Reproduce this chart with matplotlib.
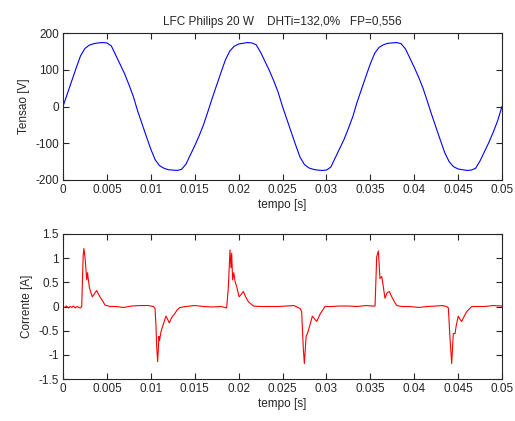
import matplotlib
matplotlib.use("Agg")
import matplotlib.pyplot as plt

plt.rcParams['font.family'] = ['Liberation Sans', 'DejaVu Sans']
plt.rcParams['axes.unicode_minus'] = False

title = "LFC Philips 20 W    DHTi=132,0%   FP=0,556"
xlabel = "tempo [s]"
ylabel_v = "Tensao [V]"
ylabel_i = "Corrente [A]"

# Voltage samples (time in ms)
t_v_ms = [0, 0.5, 1, 1.5, 2, 2.5, 3, 3.5, 4, 4.5, 5, 5.5, 6, 6.5, 7, 7.5, 8, 8.5, 9, 9.5,
          10, 10.5, 11, 11.5, 12, 12.5, 13, 13.5, 14, 14.5, 15, 15.5, 16, 16.5, 17, 17.5, 18, 18.5, 19, 19.5,
          20, 20.5, 21, 21.5, 22, 22.5, 23, 23.5, 24, 24.5, 25, 25.5, 26, 26.5, 27, 27.5, 28, 28.5, 29, 29.5,
          30, 30.5, 31, 31.5, 32, 32.5, 33, 33.5, 34, 34.5, 35, 35.5, 36, 36.5, 37, 37.5, 38, 38.5, 39, 39.5,
          40, 40.5, 41, 41.5, 42, 42.5, 43, 43.5, 44, 44.5, 45, 45.5, 46, 46.5, 47, 47.5, 48, 48.5, 49, 49.5, 50]
v_volt = [0, 35, 70, 105, 138, 158, 167, 171, 173, 174, 173, 165, 140, 115, 90, 60, 28, -12, -47, -82,
          -116, -145, -161, -168, -172, -173, -174, -171, -157, -132, -107, -80, -50, -14, 23, 58, 93, 127, 151, 164,
          170, 172, 174, 173, 168, 148, 123, 98, 70, 39, 0, -35, -70, -105, -138, -158, -167, -171, -173, -174,
          -173, -165, -140, -115, -90, -60, -28, 12, 47, 82, 116, 145, 161, 168, 172, 173, 174, 171, 157, 132,
          107, 80, 50, 14, -23, -58, -93, -127, -151, -164, -170, -172, -174, -173, -168, -148, -123, -98, -70, -39, 0]

# Current samples (time in ms)
t_i_ms = [0.0, 0.2, 0.4, 0.6, 0.8, 1.0, 1.2, 1.4, 1.6, 1.8, 2.0, 2.13, 2.3, 2.38, 2.53, 2.7, 2.8, 2.89,
          3.0, 3.15, 3.34, 3.6, 3.83, 4.0, 4.21, 4.5, 4.78, 5.35, 6.0, 6.9, 7.8, 8.8, 9.7, 10.3, 10.48,
          10.59, 10.67, 10.78, 10.93, 11.0, 11.16, 11.4, 11.73, 11.9, 12.11, 12.4, 12.76, 13.0, 13.33,
          14.0, 15.0, 16.0, 17.0, 18.0, 18.64, 18.83, 19.02, 19.13, 19.21, 19.32, 19.45, 19.59,
          19.8, 20.05, 20.3, 20.54, 20.8, 21.11, 21.68, 22.5, 23.5, 24.5, 25.5, 26.3, 26.99, 27.18,
          27.37, 27.49, 27.69, 27.84, 28.1, 28.4, 28.9, 29.3, 29.84, 30.5, 31.5, 32.5, 33.5, 34.5,
          35.2, 35.54, 35.73, 35.92, 36.1, 36.3, 36.45, 36.67, 36.9, 37.17, 37.5, 38.0, 38.6, 39.5,
          40.5, 41.5, 42.5, 43.2, 43.7, 43.89, 44.08, 44.27, 44.45, 44.65, 44.8, 45.02, 45.2, 45.4,
          45.7, 46.0, 46.55, 47.2, 48.0, 49.0, 50.0]
i_amp = [0.0, -0.02, 0.01, -0.03, 0.0, -0.02, 0.01, -0.03, 0.0, -0.02, -0.03, 0.0, 1.07, 1.2, 0.97, 0.55, 0.7, 0.55,
         0.4, 0.3, 0.2, 0.27, 0.33, 0.27, 0.2, 0.12, 0.03, 0.0, 0.0, -0.02, 0.01, 0.02, 0.02, 0.0, -0.04,
         -0.4, -0.83, -1.14, -0.62, -0.7, -0.52, -0.38, -0.2, -0.26, -0.34, -0.22, -0.14, -0.07, -0.02,
         0.0, 0.02, 0.0, -0.01, 0.0, -0.03, 0.4, 1.17, 0.8, 1.1, 0.55, 0.7, 0.52,
         0.4, 0.2, 0.25, 0.31, 0.2, 0.1, 0.01, 0.0, 0.0, 0.0, 0.01, 0.02, -0.04, -0.1,
         -0.87, -1.18, -0.62, -0.56, -0.4, -0.2, -0.31, -0.15, 0.0, 0.0, 0.01, 0.01, 0.0, 0.02,
         0.01, 0.01, 1.03, 1.15, 0.58, 0.62, 0.45, 0.17, 0.28, 0.31, 0.18, 0.02, 0.0, 0.0,
         -0.02, 0.0, 0.01, 0.02, 0.0, -0.03, -0.67, -1.18, -0.56, -0.56, -0.38, -0.2, -0.26, -0.31,
         -0.2, -0.1, 0.0, 0.0, 0.0, 0.02, 0.01]

x_ticks = [0, 0.005, 0.01, 0.015, 0.02, 0.025, 0.03, 0.035, 0.04, 0.045, 0.05]
x_ticklabels = ["0", "0.005", "0.01", "0.015", "0.02", "0.025", "0.03", "0.035", "0.04", "0.045", "0.05"]
yv_ticks = [-200, -100, 0, 100, 200]
yv_ticklabels = ["-200", "-100", "0", "100", "200"]
yi_ticks = [-1.5, -1, -0.5, 0, 0.5, 1, 1.5]
yi_ticklabels = ["-1.5", "-1", "-0.5", "0", "0.5", "1", "1.5"]

t_v = [t / 1000 for t in t_v_ms]
t_i = [t / 1000 for t in t_i_ms]

fig = plt.figure(figsize=(5.15, 4.21), dpi=100)
ax1 = fig.add_axes([63/515, 1-180/421, 439/515, 147/421])
ax2 = fig.add_axes([63/515, 1-379/421, 439/515, 145/421])

txtc = '#262626'
fs = 8.5

ax1.plot(t_v, v_volt, color='#0000ff', lw=0.8)
ax2.plot(t_i, i_amp, color='#ff0000', lw=0.8)

for ax in (ax1, ax2):
    ax.set_xlim(0, 0.05)
    ax.set_xticks(x_ticks)
    ax.set_xticklabels(x_ticklabels)
    ax.tick_params(direction='in', length=4, width=0.8, top=True, right=True,
                   labelsize=fs, labelcolor=txtc, color='#262626', pad=3)
    for s in ax.spines.values():
        s.set_linewidth(0.8)
        s.set_color('#262626')
    ax.set_xlabel(xlabel, fontsize=fs, color=txtc, labelpad=2)

ax1.set_ylim(-200, 200)
ax1.set_yticks(yv_ticks)
ax1.set_yticklabels(yv_ticklabels)
ax1.set_ylabel(ylabel_v, fontsize=fs, color=txtc, labelpad=4)
ax1.set_title(title, fontsize=fs, color=txtc, pad=6)

ax2.set_ylim(-1.5, 1.5)
ax2.set_yticks(yi_ticks)
ax2.set_yticklabels(yi_ticklabels)
ax2.set_ylabel(ylabel_i, fontsize=fs, color=txtc, labelpad=4)

fig.savefig("out.png", dpi=100)
